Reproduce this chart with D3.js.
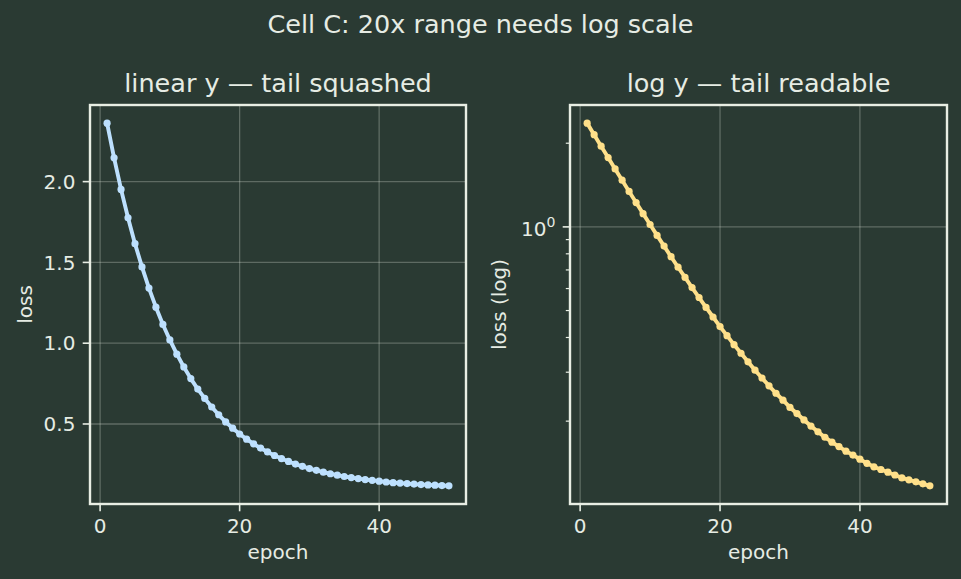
<!DOCTYPE html>
<html>
<head>
<meta charset="utf-8">
<script src="https://cdn.jsdelivr.net/npm/d3@7"></script>
<style>
  html, body { margin: 0; padding: 0; background: #2a3a33; }
  svg { display: block; }
  text { font-family: "DejaVu Sans", sans-serif; fill: #e6ece4; }
</style>
</head>
<body>
<svg id="chart" width="961" height="579"></svg>
<script>
// ---- data ----
const epochs = [1,2,3,4,5,6,7,8,9,10,11,12,13,14,15,16,17,18,19,20,21,22,23,24,25,
                26,27,28,29,30,31,32,33,34,35,36,37,38,39,40,41,42,43,44,45,46,47,48,49,50];
const loss = [2.362,2.147,1.952,1.776,1.616,1.472,1.341,1.223,1.116,1.020,
              0.932,0.853,0.781,0.716,0.658,0.605,0.557,0.513,0.474,0.438,
              0.406,0.377,0.351,0.327,0.305,0.286,0.268,0.252,0.238,0.224,
              0.213,0.202,0.192,0.183,0.175,0.168,0.162,0.156,0.151,0.146,
              0.141,0.137,0.134,0.131,0.128,0.125,0.123,0.121,0.119,0.117];
const xTicks = [0, 20, 40];
const linYTicks = [0.5, 1.0, 1.5, 2.0];
const logMajorTicks = [1];
const logMinorTicks = [0.2, 0.3, 0.4, 0.5, 0.6, 0.7, 0.8, 0.9, 2];
const suptitle = "Cell C: 20x range needs log scale";
const titles = ["linear y — tail squashed", "log y — tail readable"];
const yLabels = ["loss", "loss (log)"];
const xLabel = "epoch";
const colors = ["#bde0fe", "#ffe08a"];

// ---- layout ----
const W = 961, H = 579;
const yTop = 105, yBot = 504;
const panels = [{x0: 90, x1: 466}, {x0: 570, x1: 947}];
const spineColor = "#e8eee4";
const gridColor = "rgba(230,236,228,0.28)";
const tickLen = 7.3, tickPad = 7.3;

const svg = d3.select("#chart");
svg.append("rect").attr("width", W).attr("height", H).attr("fill", "#2a3a33");

svg.append("text").attr("x", W / 2).attr("y", 33).attr("text-anchor", "middle")
  .style("font-size", "25.5px").text(suptitle);

const pts = epochs.map((e, i) => ({e, v: loss[i]}));
const [xmin, xmax] = d3.extent(epochs);
const xm = (xmax - xmin) * 0.05;

panels.forEach((p, k) => {
  const g = svg.append("g");
  const x = d3.scaleLinear().domain([xmin - xm, xmax + xm]).range([p.x0, p.x1]);
  let y;
  if (k === 0) {
    const [lo, hi] = d3.extent(loss);
    const m = (hi - lo) * 0.05;
    y = d3.scaleLinear().domain([lo - m, hi + m]).range([yBot, yTop]);
  } else {
    const lo = Math.log10(d3.min(loss)), hi = Math.log10(d3.max(loss));
    const m = (hi - lo) * 0.05;
    y = d3.scaleLog().domain([Math.pow(10, lo - m), Math.pow(10, hi + m)]).range([yBot, yTop]);
  }

  // grid
  g.selectAll(".gx").data(xTicks).join("line")
    .attr("x1", d => x(d)).attr("x2", d => x(d)).attr("y1", yTop).attr("y2", yBot)
    .attr("stroke", gridColor).attr("stroke-width", 1.3);
  const yMajor = k === 0 ? linYTicks : logMajorTicks;
  g.selectAll(".gy").data(yMajor).join("line")
    .attr("x1", p.x0).attr("x2", p.x1).attr("y1", d => y(d)).attr("y2", d => y(d))
    .attr("stroke", gridColor).attr("stroke-width", 1.3);

  // line + markers
  const line = d3.line().x(d => x(d.e)).y(d => y(d.v));
  g.append("path").datum(pts).attr("d", line).attr("fill", "none")
    .attr("stroke", colors[k]).attr("stroke-width", 3.9).attr("stroke-linejoin", "round");
  g.selectAll(".pt").data(pts).join("circle")
    .attr("cx", d => x(d.e)).attr("cy", d => y(d.v)).attr("r", 3.6).attr("fill", colors[k]);

  // spines
  g.append("rect").attr("x", p.x0).attr("y", yTop).attr("width", p.x1 - p.x0).attr("height", yBot - yTop)
    .attr("fill", "none").attr("stroke", spineColor).attr("stroke-width", 2.4);

  // x ticks
  g.selectAll(".xt").data(xTicks).join("line")
    .attr("x1", d => x(d)).attr("x2", d => x(d)).attr("y1", yBot).attr("y2", yBot + tickLen)
    .attr("stroke", spineColor).attr("stroke-width", 1.6);
  g.selectAll(".xl").data(xTicks).join("text")
    .attr("x", d => x(d)).attr("y", yBot + tickLen + tickPad + 14.6).attr("text-anchor", "middle")
    .style("font-size", "20px").text(d => d3.format("d")(d));

  // y ticks
  g.selectAll(".yt").data(yMajor).join("line")
    .attr("x1", p.x0 - tickLen).attr("x2", p.x0).attr("y1", d => y(d)).attr("y2", d => y(d))
    .attr("stroke", spineColor).attr("stroke-width", 1.6);
  if (k === 0) {
    g.selectAll(".yl").data(linYTicks).join("text")
      .attr("x", p.x0 - tickLen - tickPad).attr("y", d => y(d) + 7.3).attr("text-anchor", "end")
      .style("font-size", "20px").text(d => d3.format(".1f")(d));
  } else {
    g.selectAll(".ym").data(logMinorTicks).join("line")
      .attr("x1", p.x0 - 4.2).attr("x2", p.x0).attr("y1", d => y(d)).attr("y2", d => y(d))
      .attr("stroke", spineColor).attr("stroke-width", 1.2);
    const t = g.selectAll(".yl").data(logMajorTicks).join("text")
      .attr("x", p.x0 - tickLen - tickPad).attr("y", d => y(d) + 9).attr("text-anchor", "end")
      .style("font-size", "20px");
    t.append("tspan").text("10");
    t.append("tspan").attr("dy", -9).style("font-size", "14px").text(d => Math.round(Math.log10(d)));
  }

  // labels
  g.append("text").attr("x", (p.x0 + p.x1) / 2).attr("y", 559).attr("text-anchor", "middle")
    .style("font-size", "20px").text(xLabel);
  const lx = k === 0 ? 32 : 506;
  g.append("text").attr("transform", `translate(${lx},${(yTop + yBot) / 2}) rotate(-90)`)
    .attr("text-anchor", "middle").style("font-size", "20px").text(yLabels[k]);
  g.append("text").attr("x", (p.x0 + p.x1) / 2).attr("y", 92).attr("text-anchor", "middle")
    .style("font-size", "25.5px").text(titles[k]);
});
</script>
</body>
</html>
